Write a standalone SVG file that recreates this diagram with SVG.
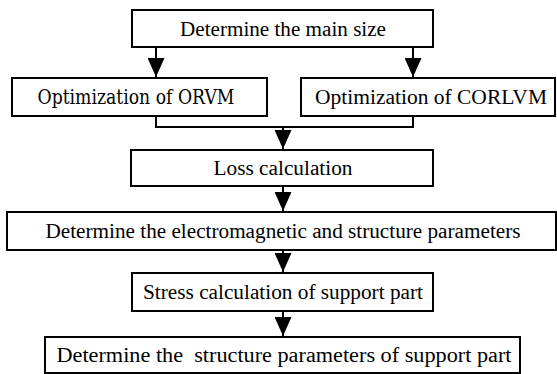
<svg xmlns="http://www.w3.org/2000/svg" width="557" height="374" viewBox="0 0 557 374">
<style>
.box{fill:#fff;stroke:#000;stroke-width:2}
.lbl{font-family:'Liberation Serif','DejaVu Serif','Times New Roman',serif;font-size:20px;fill:#000;text-anchor:middle}
.alt{font-family:'DejaVu Serif',serif}
.con{fill:none;stroke:#000;stroke-width:2}
</style>
<defs>
<marker id="ah" markerUnits="userSpaceOnUse" markerWidth="19" markerHeight="17" refX="19" refY="8.5" orient="auto" viewBox="0 0 19 17">
<path d="M0,0 L19,8.5 L0,17 Z" fill="#000"/>
</marker>
</defs>
<rect width="557" height="374" fill="#fff"/>
<g id="connectors">
<path class="con" d="M156,47 V77" marker-end="url(#ah)"/>
<path class="con" d="M413,47 V77" marker-end="url(#ah)"/>
<path class="con" d="M156,116 V127 H413 V116"/>
<path class="con" d="M283,127 V149" marker-end="url(#ah)"/>
<path class="con" d="M283,186 V211" marker-end="url(#ah)"/>
<path class="con" d="M283,250 V272" marker-end="url(#ah)"/>
<path class="con" d="M283,311 V336" marker-end="url(#ah)"/>
</g>
<g id="n1"><rect class="box" x="132" y="10" width="301" height="37"/><text class="lbl" x="283" y="36" textLength="206" lengthAdjust="spacingAndGlyphs">Determine the main size</text></g>
<g id="n2"><rect class="box" x="12" y="78" width="255" height="38"/><text class="lbl alt" x="136" y="104" textLength="197" lengthAdjust="spacingAndGlyphs">Optimization of ORVM</text></g>
<g id="n3"><rect class="box" x="301" y="78" width="254" height="38"/><text class="lbl" x="431" y="104" textLength="232" lengthAdjust="spacingAndGlyphs">Optimization of CORLVM</text></g>
<g id="n4"><rect class="box" x="131" y="150" width="302" height="36"/><text class="lbl" x="283" y="175" textLength="139" lengthAdjust="spacingAndGlyphs">Loss calculation</text></g>
<g id="n5"><rect class="box" x="7" y="212" width="549" height="38"/><text class="lbl" x="283" y="238" textLength="475" lengthAdjust="spacingAndGlyphs">Determine the electromagnetic and structure parameters</text></g>
<g id="n6"><rect class="box" x="132" y="273" width="301" height="38"/><text class="lbl" x="283" y="299" textLength="280" lengthAdjust="spacingAndGlyphs">Stress calculation of support part</text></g>
<g id="n7"><rect class="box" x="45" y="337" width="475" height="36"/><text class="lbl" x="284" y="362" textLength="455" lengthAdjust="spacingAndGlyphs" xml:space="preserve">Determine the  structure parameters of support part</text></g>
</svg>
